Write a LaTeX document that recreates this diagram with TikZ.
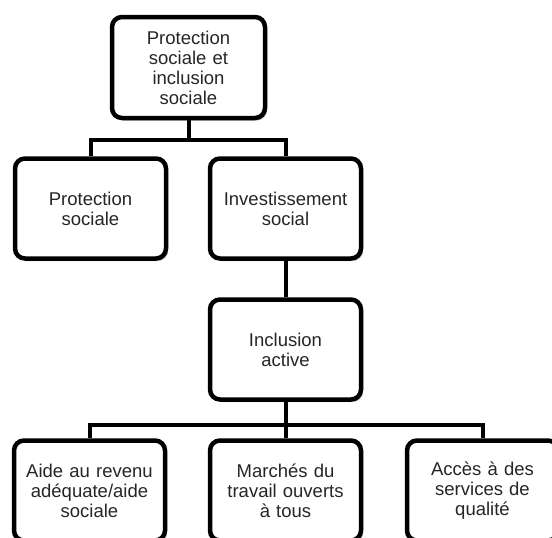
\documentclass[tikz,border=0pt]{standalone}
\usepackage{fontspec}
\setmainfont{Liberation Sans}
\usetikzlibrary{shadows}
\begin{document}
\begin{tikzpicture}[x=1pt,y=-1pt,
  box/.style={draw=black, line width=4.5pt, rounded corners=10pt, fill=white,
    minimum width=151pt, minimum height=100pt, align=center, text width=145pt,
    inner sep=0pt, text=black!85,
    font=\fontsize{18.5}{20}\selectfont,
    drop shadow={shadow xshift=2pt, shadow yshift=-2.5pt, fill=black, opacity=0.25}},
  link/.style={draw=black, line width=4pt}]
\useasboundingbox (0,0) rectangle (552,538);
\clip (0,0) rectangle (552,538);
\node[box, minimum width=153pt, minimum height=101pt] (top) at (188.5,67.5) {Protection\\sociale et\\inclusion\\sociale};
\node[box] (ps) at (90.5,208.5) {Protection\\sociale};
\node[box] (is) at (285.5,208.5) {Investissement\\social};
\node[box] (ia) at (285.5,349.5) {Inclusion\\active};
\node[box] (b1) at (89.5,490.5) {Aide au revenu\\adéquate/aide\\sociale};
\node[box] (b2) at (285.5,490.5) {Marchés du\\travail ouverts\\à tous};
\node[box] (b3) at (482.5,490.5) {Accès à des\\services de\\qualité};
\draw[link] (top.south) -- ++(0,20) -| (ps.north);
\draw[link] (top.south) -- ++(0,20) -| (is.north);
\draw[link] (is.south) -- (ia.north);
\draw[link] (ia.south) -- ++(0,23) -| (b1.north);
\draw[link] (ia.south) -- (b2.north);
\draw[link] (ia.south) -- ++(0,23) -| (b3.north);
\end{tikzpicture}
\end{document}
